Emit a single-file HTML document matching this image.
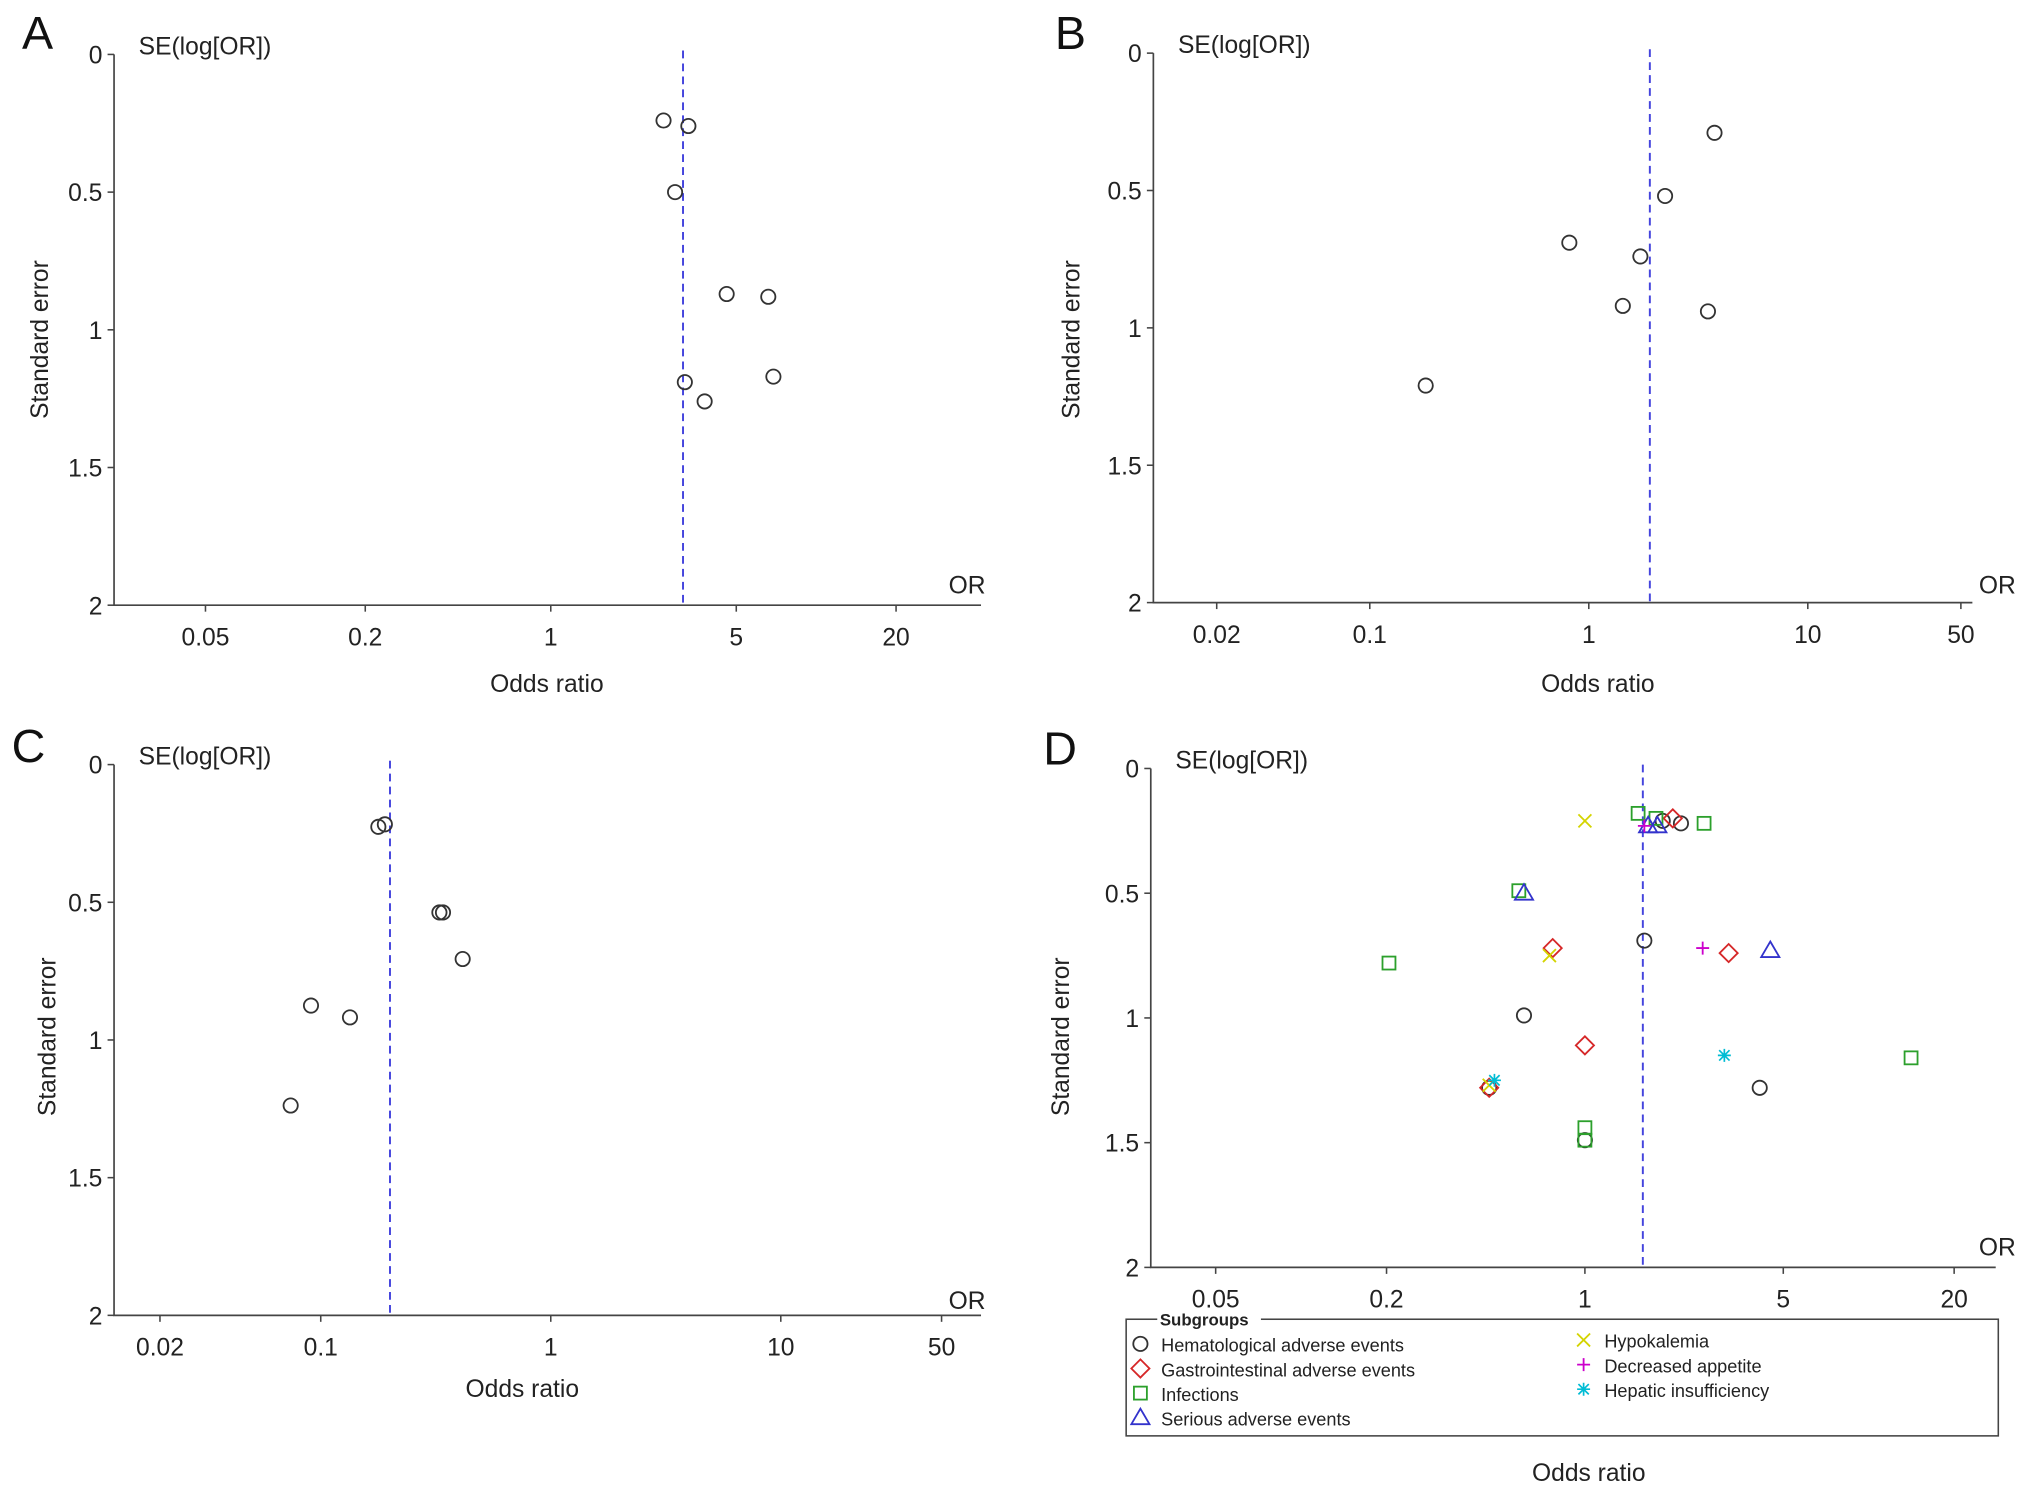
<!DOCTYPE html>
<html><head><meta charset="utf-8"><style>
html,body{margin:0;padding:0;background:#fff}
svg{display:block;font-family:"Liberation Sans",sans-serif}
</style></head><body>
<svg id="fig" width="2032" height="1496" viewBox="0 0 1568 1154.4" xmlns="http://www.w3.org/2000/svg"></svg>
<script>
// Panel A data
const aOR=[2.66,3.3,2.94,4.6,6.6,3.2,6.9,3.8];
const aSE=[0.24,0.26,0.5,0.87,0.88,1.19,1.17,1.26];
const aMean=3.15;
const aTicks=[0.05,0.2,1,5,20];
// Panel B data
const bOR=[3.75,2.23,0.815,1.72,1.43,3.5,0.18];
const bSE=[0.29,0.52,0.69,0.74,0.92,0.94,1.21];
const bMean=1.9;
const bTicks=[0.02,0.1,1,10,50];
// Panel C data
const cOR=[0.178,0.19,0.328,0.34,0.414,0.0907,0.134,0.074];
const cSE=[0.226,0.217,0.537,0.537,0.706,0.875,0.918,1.238];
const cMean=0.2;
const cTicks=[0.02,0.1,1,10,50];
// Panel D data
const dMean=1.6;
const dTicks=[0.05,0.2,1,5,20];
const seTicks=[0,0.5,1,1.5,2];
const hemOR=[1.88,2.18,1.62,0.61,0.46,4.13,1.0];
const hemSE=[0.21,0.22,0.69,0.99,1.28,1.28,1.49];
const giOR=[2.04,0.77,3.21,1.0,0.46];
const giSE=[0.2,0.72,0.74,1.11,1.28];
const infOR=[1.54,1.78,2.63,0.585,0.204,14.1,1.0,1.0];
const infSE=[0.18,0.2,0.22,0.49,0.78,1.16,1.44,1.49];
const saeOR=[1.67,1.8,0.61,4.5];
const saeSE=[0.23,0.23,0.5,0.73];
const hypoOR=[1.0,0.75,0.46];
const hypoSE=[0.21,0.75,1.27];
const appOR=[1.62,2.6];
const appSE=[0.23,0.72];
const hepOR=[0.48,3.1];
const hepSE=[1.25,1.15];

const NS="http://www.w3.org/2000/svg";
const svg=document.getElementById('fig');
function mk(tag,attrs,parent,text){const e=document.createElementNS(NS,tag);for(const k in attrs)e.setAttribute(k,attrs[k]);if(text!==undefined)e.textContent=text;(parent||svg).appendChild(e);return e;}

function marker(g,type,x,y){
  let e;
  if(type==='circle'){e=mk('circle',{cx:x,cy:y,r:5.5,fill:'none',stroke:'#333','stroke-width':1.4},g);}
  else if(type==='diamond'){e=mk('polygon',{points:`${x},${y-7} ${x+7},${y} ${x},${y+7} ${x-7},${y}`,fill:'none',stroke:'#d62728','stroke-width':1.4},g);}
  else if(type==='square'){e=mk('rect',{x:x-5,y:y-5,width:10,height:10,fill:'none',stroke:'#2ca02c','stroke-width':1.4},g);}
  else if(type==='triangle'){e=mk('polygon',{points:`${x},${y-7} ${x+7},${y+5} ${x-7},${y+5}`,fill:'none',stroke:'#3333cc','stroke-width':1.4},g);}
  else if(type==='x'){e=mk('path',{d:`M${x-5},${y-5}L${x+5},${y+5}M${x+5},${y-5}L${x-5},${y+5}`,stroke:'#d4d400','stroke-width':1.4},g);}
  else if(type==='plus'){e=mk('path',{d:`M${x-5},${y}L${x+5},${y}M${x},${y-5}L${x},${y+5}`,stroke:'#cc00cc','stroke-width':1.4},g);}
  else {e=mk('path',{d:`M${x-5},${y}L${x+5},${y}M${x},${y-5}L${x},${y+5}M${x-4},${y-4}L${x+4},${y+4}M${x+4},${y-4}L${x-4},${y+4}`,stroke:'#00bcd4','stroke-width':1.3},g);}
  
  
}

function panel(p){
  const g=mk('g',{});
  
  
  const X=or=>p.x1+Math.log10(or/p.refOR)*p.dec;
  const Y=se=>p.y0+se*(p.y2-p.y0)/2;
  const ax=mk('path',{d:`M${p.axL},${p.y0}L${p.axL},${p.y2}L${p.axR},${p.y2}`,fill:'none',stroke:'#444','stroke-width':1.3},g);
   
  seTicks.forEach(t=>{
    mk('line',{x1:p.axL-5,x2:p.axL,y1:Y(t),y2:Y(t),stroke:'#444','stroke-width':1.2},g);
    const tl=mk('text',{x:p.axL-9,y:Y(t)+7,'text-anchor':'end','font-size':19,fill:'#222'},g,String(t));
     
  });
  p.ticks.forEach(t=>{
    mk('line',{x1:X(t),x2:X(t),y1:p.y2,y2:p.y2+5,stroke:'#444','stroke-width':1.2},g);
    const tl=mk('text',{x:X(t),y:p.y2+31,'text-anchor':'middle','font-size':19,fill:'#222'},g,String(t));
     
  });
  const dl=mk('line',{x1:X(p.mean),x2:X(p.mean),y1:p.y0-3,y2:p.y2,stroke:'#4444dd','stroke-width':1.5,'stroke-dasharray':'6,4'},g);
   
  p.series.forEach(s=>s.or.forEach((o,i)=>marker(g,s.type,X(o),Y(s.se[i]))));
  let t;
  t=mk('text',{x:p.letter[0],y:p.letter[1],'font-size':36,fill:'#111'},g,p.id);
  t=mk('text',{x:p.axL+19,y:p.y0,'font-size':19,fill:'#222'},g,'SE(log[OR])');
  t=mk('text',{x:p.orPos[0],y:p.orPos[1],'font-size':19,fill:'#222'},g,'OR');
  t=mk('text',{x:p.xl[0],y:p.xl[1],'text-anchor':'middle','font-size':19,fill:'#222'},g,'Odds ratio');
  t=mk('text',{x:0,y:0,'text-anchor':'middle','font-size':19,fill:'#222',transform:`translate(${p.yl[0]},${p.yl[1]}) rotate(-90)`},g,'Standard error');
}

panel({id:'A',axL:88,axR:757,y0:42,y2:467,x1:425,refOR:1,dec:204.8,ticks:aTicks,mean:aMean,
  series:[{type:'circle',or:aOR,se:aSE}],letter:[17,38],orPos:[732,458],xl:[422,534],yl:[37,262]});
panel({id:'B',axL:890,axR:1522,y0:41,y2:465,x1:1226,refOR:1,dec:169,ticks:bTicks,mean:bMean,
  series:[{type:'circle',or:bOR,se:bSE}],letter:[814,38],orPos:[1527,458],xl:[1233,534],yl:[833,262]});
panel({id:'C',axL:88,axR:757,y0:590,y2:1015,x1:425,refOR:1,dec:177.5,ticks:cTicks,mean:cMean,
  series:[{type:'circle',or:cOR,se:cSE}],letter:[9,588],orPos:[732,1010],xl:[403,1078],yl:[43,800]});
panel({id:'D',axL:888,axR:1540,y0:593,y2:978,x1:1223,refOR:1,dec:219,ticks:dTicks,mean:dMean,
  series:[{type:'circle',or:hemOR,se:hemSE},{type:'diamond',or:giOR,se:giSE},{type:'square',or:infOR,se:infSE},
    {type:'triangle',or:saeOR,se:saeSE},{type:'x',or:hypoOR,se:hypoSE},{type:'plus',or:appOR,se:appSE},{type:'star',or:hepOR,se:hepSE}],
  letter:[805,590],orPos:[1527,969],xl:[1226,1143],yl:[825,800]});

// Legend
const lg=mk('g',{});


mk('rect',{x:869,y:1018,width:673,height:90,fill:'none',stroke:'#444','stroke-width':1.2},lg);
mk('rect',{x:893,y:1012,width:80,height:12,fill:'#fff'},lg);
const lt=mk('text',{x:895,y:1023,'font-size':13,'font-weight':'bold',fill:'#222'},lg,'Subgroups');

const entries=[['circle','Hematological adverse events',880,1038],['diamond','Gastrointestinal adverse events',880,1057],
['square','Infections',880,1076],['triangle','Serious adverse events',880,1095],
['x','Hypokalemia',1222,1035],['plus','Decreased appetite',1222,1054],['star','Hepatic insufficiency',1222,1073]];
entries.forEach(e=>{
  const eg=mk('g',{},lg);
  
  
  marker(eg,e[0],e[2],e[3]-1);
  mk('text',{x:e[2]+16,y:e[3]+5,'font-size':14,fill:'#222'},eg,e[1]);
});
</script>
</body></html>
